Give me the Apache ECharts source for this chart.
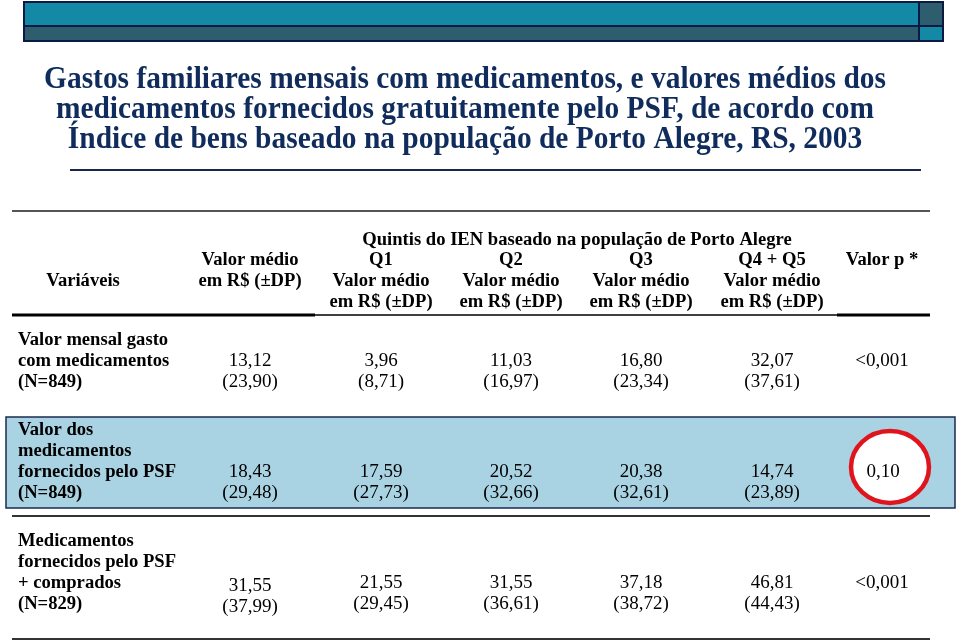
<!DOCTYPE html>
<html>
<head>
<meta charset="utf-8">
<script src="https://cdn.jsdelivr.net/npm/echarts@6/dist/echarts.min.js"></script>
<style>
  html, body { margin: 0; padding: 0; background: #fff; }
  #main { width: 960px; height: 643px; }
</style>
</head>
<body>
<div id="main"></div>
<script>
// textos do slide
var titleLines = [
  "Gastos familiares mensais com medicamentos, e valores médios dos",
  "medicamentos fornecidos gratuitamente pelo PSF, de acordo com",
  "Índice de bens baseado na população de Porto Alegre, RS, 2003"
];
var groupHeader = "Quintis do IEN baseado na população de Porto Alegre";
var quintiles = ["Q1", "Q2", "Q3", "Q4 + Q5"];
var rowLabels = [
  ["Valor mensal gasto", "com medicamentos", "(N=849)"],
  ["Valor dos", "medicamentos", "fornecidos pelo PSF", "(N=849)"],
  ["Medicamentos", "fornecidos pelo PSF", "+ comprados", "(N=829)"]
];
// valor médio geral e desvio padrão
var totalMean = [13.12, 18.43, 31.55];
var totalSD = [23.90, 29.48, 37.99];
// valor médio por quintil (Q1, Q2, Q3, Q4+Q5)
var quintMean = [
  [3.96, 11.03, 16.80, 32.07],
  [17.59, 20.52, 20.38, 14.74],
  [21.55, 31.55, 37.18, 46.81]
];
var quintSD = [
  [8.71, 16.97, 23.34, 37.61],
  [27.73, 32.66, 32.61, 23.89],
  [29.45, 36.61, 38.72, 44.43]
];
var pValues = ["<0,001", "0,10", "<0,001"];

function fmt(v) {
  return v.toFixed(2).replace(".", ",");
}

var serifB = 'bold 18.6px "Liberation Serif"';
var serif = '19px "Liberation Serif"';
var colX = [250, 381, 511, 641, 772, 882];
var rowTop = [340, 430, 541];   // y da primeira linha de cada bloco
var lineH = 21;

function txt(s, x, y, font, align, color) {
  return {
    type: "text", x: x, y: y, z: 10,
    style: {
      text: s, font: font || serif, fill: color || "#000",
      textAlign: align || "center", textVerticalAlign: "middle"
    }
  };
}
function hline(x1, x2, y, w, c) {
  return {
    type: "line", z: 5,
    shape: { x1: x1, y1: y, x2: x2, y2: y },
    style: { stroke: c, lineWidth: w }
  };
}

var els = [];

// barras do topo
els.push({ type: "rect", shape: { x: 24, y: 2, width: 895, height: 24 }, style: { fill: "#1489a6", stroke: "#0b1a45", lineWidth: 2 } });
els.push({ type: "rect", shape: { x: 919, y: 2, width: 24, height: 24 }, style: { fill: "#2e5d6e", stroke: "#0b1a45", lineWidth: 2 } });
els.push({ type: "rect", shape: { x: 24, y: 26, width: 895, height: 15 }, style: { fill: "#2e5d6e", stroke: "#0b1a45", lineWidth: 2 } });
els.push({ type: "rect", shape: { x: 919, y: 26, width: 24, height: 15 }, style: { fill: "#1489a6", stroke: "#0b1a45", lineWidth: 2 } });

// título
titleLines.forEach(function (s, i) {
  els.push({
    type: "text", x: 465, y: 80 + i * 30, scaleX: 0.92,
    style: {
      text: s, font: 'bold 32px "Liberation Serif"', fill: "#0f2c5c",
      textAlign: "center", textVerticalAlign: "middle"
    }
  });
});
els.push(hline(70, 921, 170, 2, "#1a2650"));

// cabeçalho da tabela
els.push(hline(12, 930, 211, 2, "#555"));
els.push(txt(groupHeader, 577, 240, serifB));
els.push(txt("Variáveis", 83, 281, serifB));
els.push(txt("Valor médio", colX[0], 260, serifB));
els.push(txt("em R$ (±DP)", colX[0], 281, serifB));
quintiles.forEach(function (q, i) {
  els.push(txt(q, colX[i + 1], 260, serifB));
  els.push(txt("Valor médio", colX[i + 1], 281, serifB));
  els.push(txt("em R$ (±DP)", colX[i + 1], 302, serifB));
});
els.push(txt("Valor p *", colX[5], 260, serifB));
els.push(hline(12, 315, 315, 3, "#000"));
els.push(hline(315, 837, 315, 1.5, "#000"));
els.push(hline(837, 930, 315, 3, "#000"));

// faixa destacada da segunda linha
els.push({ type: "rect", z: 1, shape: { x: 6, y: 417, width: 949, height: 91 }, style: { fill: "#a9d2e2", stroke: "#1a2b50", lineWidth: 1.5 } });
els.push({ type: "ellipse", z: 8, shape: { cx: 890, cy: 467, rx: 39, ry: 36 }, style: { fill: "#fff", stroke: "#e0141c", lineWidth: 4.5 } });

// linhas de dados
rowLabels.forEach(function (lbl, r) {
  var y0 = rowTop[r];
  lbl.forEach(function (s, k) {
    els.push(txt(s, 18, y0 + k * lineH, serifB, "left"));
  });
  var yv = y0 + (lbl.length - 2) * lineH;
  var off = r === 2 ? 3 : 0;
  els.push(txt(fmt(totalMean[r]), colX[0], yv + off, serif));
  els.push(txt("(" + fmt(totalSD[r]) + ")", colX[0], yv + lineH + off, serif));
  quintMean[r].forEach(function (v, i) {
    els.push(txt(fmt(v), colX[i + 1], yv, serif));
    els.push(txt("(" + fmt(quintSD[r][i]) + ")", colX[i + 1], yv + lineH, serif));
  });
  els.push(txt(pValues[r], r === 1 ? 883 : colX[5], yv, serif));
});

els.push(hline(12, 930, 516, 2, "#333"));
els.push(hline(12, 930, 639, 2, "#333"));

var chart = echarts.init(document.getElementById("main"));
chart.setOption({
  backgroundColor: "#fff",
  animation: false,
  graphic: { elements: els }
});
</script>
</body>
</html>
